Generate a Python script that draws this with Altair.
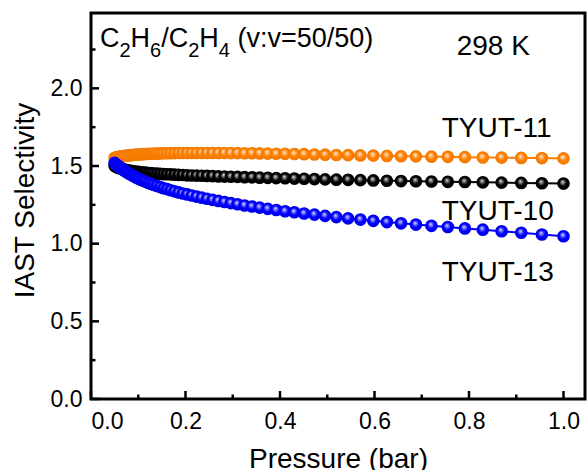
import altair as alt
import pandas as pd

# ---------------- data ----------------
pressure = [0.0500, 0.0524, 0.0549, 0.0575, 0.0603, 0.0632, 0.0662, 0.0694, 0.0727, 0.0762,
            0.0798, 0.0837, 0.0877, 0.0919, 0.0963, 0.1009, 0.1057, 0.1108, 0.1161, 0.1217,
            0.1275, 0.1336, 0.1400, 0.1467, 0.1538, 0.1611, 0.1688, 0.1769, 0.1854, 0.1943,
            0.2036, 0.2134, 0.2236, 0.2343, 0.2455, 0.2573, 0.2696, 0.2825, 0.2961, 0.3102,
            0.3251, 0.3407, 0.3570, 0.3741, 0.3920, 0.4108, 0.4305, 0.4511, 0.4729, 0.4955,
            0.5193, 0.5441, 0.5702, 0.5975, 0.6262, 0.6562, 0.6877, 0.7206, 0.7551, 0.7913,
            0.8292, 0.8690, 0.9106, 0.9543, 1.0000]

tyut10 = [1.500, 1.496, 1.492, 1.489, 1.486, 1.483, 1.480, 1.478, 1.476, 1.473,
          1.471, 1.469, 1.467, 1.465, 1.463, 1.462, 1.460, 1.458, 1.457, 1.455,
          1.454, 1.452, 1.451, 1.449, 1.448, 1.447, 1.446, 1.444, 1.443, 1.442,
          1.440, 1.439, 1.438, 1.437, 1.436, 1.435, 1.433, 1.432, 1.431, 1.430,
          1.428, 1.427, 1.425, 1.424, 1.422, 1.421, 1.419, 1.418, 1.416, 1.414,
          1.412, 1.411, 1.409, 1.407, 1.405, 1.403, 1.402, 1.400, 1.398, 1.397,
          1.395, 1.393, 1.391, 1.389, 1.387]

tyut11 = [1.553, 1.555, 1.557, 1.558, 1.560, 1.561, 1.563, 1.564, 1.566, 1.567,
          1.568, 1.569, 1.571, 1.572, 1.573, 1.574, 1.575, 1.576, 1.577, 1.578,
          1.579, 1.580, 1.580, 1.581, 1.582, 1.582, 1.583, 1.583, 1.584, 1.584,
          1.584, 1.584, 1.584, 1.584, 1.584, 1.584, 1.584, 1.584, 1.583, 1.583,
          1.582, 1.582, 1.581, 1.580, 1.579, 1.578, 1.577, 1.576, 1.574, 1.573,
          1.571, 1.570, 1.568, 1.567, 1.565, 1.563, 1.562, 1.560, 1.559, 1.557,
          1.555, 1.554, 1.552, 1.551, 1.549]

tyut13 = [1.520, 1.513, 1.506, 1.500, 1.493, 1.486, 1.480, 1.473, 1.466, 1.459,
          1.452, 1.446, 1.439, 1.432, 1.425, 1.418, 1.412, 1.405, 1.398, 1.391,
          1.384, 1.378, 1.371, 1.364, 1.357, 1.351, 1.344, 1.337, 1.330, 1.323,
          1.317, 1.310, 1.303, 1.296, 1.289, 1.282, 1.275, 1.268, 1.261, 1.254,
          1.246, 1.239, 1.232, 1.224, 1.217, 1.209, 1.202, 1.194, 1.187, 1.179,
          1.171, 1.163, 1.155, 1.147, 1.139, 1.131, 1.123, 1.115, 1.107, 1.098,
          1.090, 1.080, 1.070, 1.059, 1.048]

series_names = ["TYUT-10", "TYUT-11", "TYUT-13"]
series_values = [tyut10, tyut11, tyut13]

x_major = [0.0, 0.2, 0.4, 0.6, 0.8, 1.0]
x_minor = [0.1, 0.3, 0.5, 0.7, 0.9]
y_major = [0.0, 0.5, 1.0, 1.5, 2.0]
y_minor = [0.25, 0.75, 1.25, 1.75, 2.25]

# ---------------- styles ----------------
FONT = "Liberation Sans"
W, H = 494, 386
colors = {"TYUT-10": "#000000", "TYUT-11": "#FF8000", "TYUT-13": "#0000FF"}
light = {"TYUT-10": "#e0e0e0", "TYUT-11": "#ffeedd", "TYUT-13": "#dcdcff"}
dark = {"TYUT-10": "#000000", "TYUT-11": "#f07800", "TYUT-13": "#0000e8"}

rows = []
for name, vals in zip(series_names, series_values):
    for p, v in zip(pressure, vals):
        rows.append({"series": name, "pressure": p, "selectivity": v})
df = pd.DataFrame(rows)

xscale = alt.Scale(domain=[0, 1.0455], nice=False, zero=False)
yscale = alt.Scale(domain=[0, 2.485], nice=False, zero=False)

x_axis = alt.Axis(values=x_major, format=".1f", title="Pressure (bar)", ticks=False,
                  domain=False, grid=False, labelPadding=11, labelFontSize=23,
                  labelFont=FONT, labelColor="black", titleFont=FONT, titleFontSize=28,
                  titleFontWeight="normal", titleColor="black",
                  titleBaseline="alphabetic", titleY=68)
y_axis = alt.Axis(values=y_major, format=".1f", title="IAST Selectivity", ticks=False,
                  domain=False, grid=False, labelPadding=9, labelFontSize=23,
                  labelFont=FONT, labelColor="black", titleFont=FONT, titleFontSize=28,
                  titleFontWeight="normal", titleColor="black",
                  titleBaseline="alphabetic", titleAngle=-90, titleX=-58, titleY=187)

X = alt.X("pressure:Q", scale=xscale, axis=x_axis, title="Pressure (bar)")
Y = alt.Y("selectivity:Q", scale=yscale, axis=y_axis, title="IAST Selectivity")

base = alt.Chart(df)

lines = base.mark_line(strokeWidth=2).encode(
    x=X, y=Y,
    color=alt.Color("series:N",
                    scale=alt.Scale(domain=series_names,
                                    range=[colors[s] for s in series_names]),
                    legend=None),
    detail="series:N",
)

point_layers = []
for s in series_names:
    grad = alt.RadialGradient(
        gradient="radial", x1=0.42, y1=0.36, r1=0.0, x2=0.5, y2=0.5, r2=0.5,
        stops=[alt.GradientStop(color=light[s], offset=0.0),
               alt.GradientStop(color=colors[s], offset=0.55),
               alt.GradientStop(color=dark[s], offset=1.0)])
    point_layers.append(
        base.transform_filter(alt.datum.series == s)
        .mark_circle(size=160, opacity=1, fill=grad)
        .encode(x=X, y=Y)
    )

# inward ticks
def xticks(vals, length):
    return alt.Chart(pd.DataFrame({"pressure": vals})).mark_rule(strokeWidth=2.5, color="black").encode(
        x=X, y=alt.value(H), y2=alt.value(H - length))

def yticks(vals, length):
    return alt.Chart(pd.DataFrame({"selectivity": vals})).mark_rule(strokeWidth=2.5, color="black").encode(
        y=Y, x=alt.value(0), x2=alt.value(length))

def txt(text, x, y, size):
    return alt.Chart(pd.DataFrame({"t": [text]})).mark_text(
        align="left", baseline="alphabetic", font=FONT, fontSize=size, color="black"
    ).encode(text="t:N", x=alt.value(x), y=alt.value(y))

main_size, sub_size = 27, 20
formula = [
    ("C", 9, 33.7, main_size), ("2", 28.5, 43.5, sub_size),
    ("H", 39.6, 33.7, main_size), ("6", 59.1, 43.5, sub_size),
    ("/", 70.2, 33.7, main_size),
    ("C", 77.7, 33.7, main_size), ("2", 97.2, 43.5, sub_size),
    ("H", 108.3, 33.7, main_size), ("4", 127.8, 43.5, sub_size),
    ("(v:v=50/50)", 146.4, 33.7, main_size),
]
texts = [txt(*f) for f in formula]
texts += [
    txt("298 K", 365.7, 42, 28),
    txt("TYUT-11", 350.7, 123.7, 28),
    txt("TYUT-10", 350.7, 207, 28),
    txt("TYUT-13", 350.7, 268, 28),
]

chart = alt.layer(
    lines, *point_layers,
    xticks(x_major, 8), xticks(x_minor, 4.5),
    yticks(y_major, 8), yticks(y_minor, 4.5),
    *texts,
).properties(
    width=W, height=H,
    padding={"left": 91, "top": 13, "right": 2, "bottom": 71},
    autosize=alt.AutoSizeParams(type="none"),
    background="white",
).configure_view(stroke="black", strokeWidth=3)

chart.save("out.html", embed_options={"renderer": "svg", "actions": False})
